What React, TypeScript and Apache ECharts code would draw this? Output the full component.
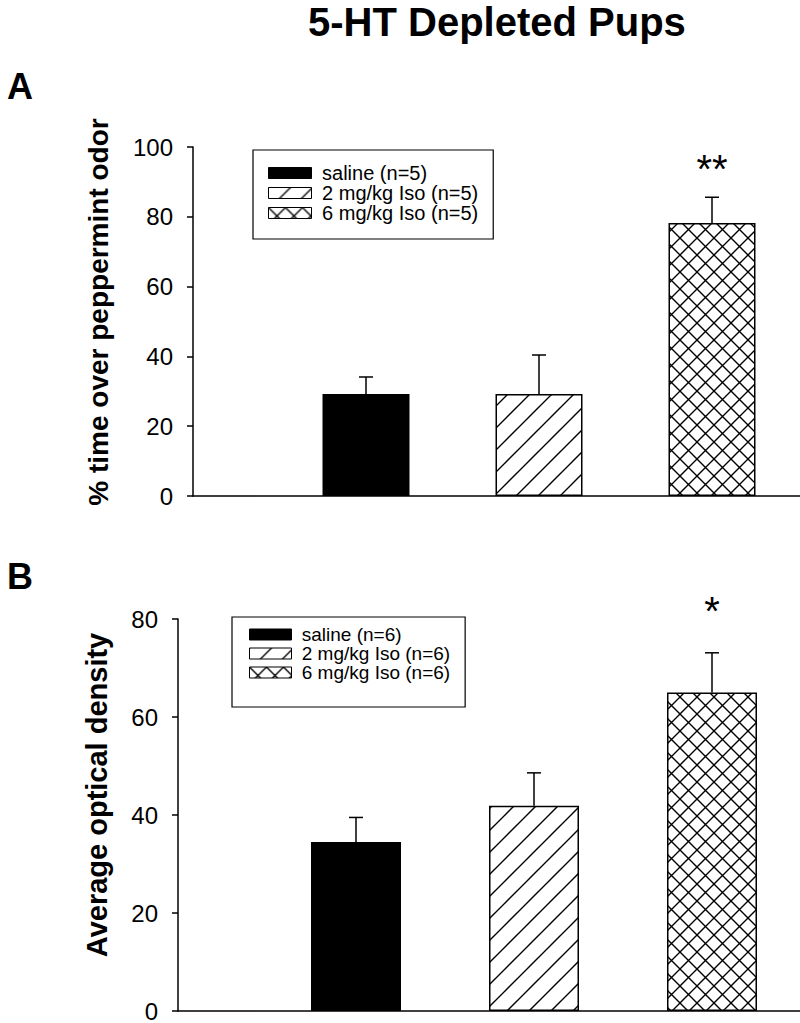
import React, { useEffect, useRef } from "react";
import * as echarts from "echarts";

// ---------- data ----------
const groupsA = ["saline (n=5)", "2 mg/kg Iso (n=5)", "6 mg/kg Iso (n=5)"];
const meansA = [29.2, 29.2, 78.2];
const errTopA = [34.1, 40.4, 85.6];
const starsA = ["", "", "**"];

const groupsB = ["saline (n=6)", "2 mg/kg Iso (n=6)", "6 mg/kg Iso (n=6)"];
const meansB = [34.5, 41.9, 65.0];
const errTopB = [39.5, 48.6, 73.1];
const starsB = ["", "", "*"];

const positions = [1, 2, 3];

const titleText = "5-HT Depleted Pups";
const yNameA = "% time over peppermint odor";
const yNameB = "Average optical density";

const FONT = "'Liberation Sans', Arial, Helvetica, sans-serif";

function makeHatch(size: number, cross: boolean) {
  const c = document.createElement("canvas");
  c.width = size;
  c.height = size;
  const ctx = c.getContext("2d")!;
  ctx.fillStyle = "#fff";
  ctx.fillRect(0, 0, size, size);
  ctx.strokeStyle = "#000";
  ctx.lineWidth = 1.4;
  ctx.beginPath();
  for (const o of [-size, 0, size]) {
    ctx.moveTo(o - 1, size + 1);
    ctx.lineTo(o + size + 1, -1);
    if (cross) {
      ctx.moveTo(o - 1, -1);
      ctx.lineTo(o + size + 1, size + 1);
    }
  }
  ctx.stroke();
  return { image: c, repeat: "repeat", imageWidth: size, imageHeight: size } as any;
}

export default function App() {
  const ref = useRef<HTMLDivElement>(null);
  useEffect(() => {
    document.body.style.margin = "0";
    const chart = echarts.init(ref.current!, null, { renderer: "svg" });
    const fills = ["#000", makeHatch(22, false), makeHatch(17, true)];

    const barSeries = (names: string[], means: number[], axis: number) =>
      names.map((n, i) => ({
        type: "bar",
        name: n,
        xAxisIndex: axis,
        yAxisIndex: axis,
        barWidth: axis === 0 ? 87 : 90,
        barGap: "-100%",
        data: [[positions[i], means[i]]],
        itemStyle: { color: fills[i], borderColor: "#000", borderWidth: 1.5 },
      }));

    const errSeries = (means: number[], tops: number[], stars: string[], axis: number, starGap: number) => ({
      type: "custom",
      xAxisIndex: axis,
      yAxisIndex: axis,
      data: positions.map((p, i) => [p, means[i], tops[i], i]),
      renderItem: (params: any, api: any) => {
        const x = api.value(0);
        const p0 = api.coord([x, api.value(1)]);
        const p1 = api.coord([x, api.value(2)]);
        const star = stars[api.value(3)];
        const st = { stroke: "#000", lineWidth: 1.5 };
        const children: any[] = [
          { type: "line", shape: { x1: p0[0], y1: p0[1], x2: p1[0], y2: p1[1] }, style: st },
          { type: "line", shape: { x1: p1[0] - 7, y1: p1[1], x2: p1[0] + 7, y2: p1[1] }, style: st },
        ];
        if (star) {
          children.push({
            type: "text",
            style: {
              text: star,
              x: p1[0],
              y: p1[1] - starGap,
              align: "center",
              verticalAlign: "bottom",
              fontSize: 40,
              fontFamily: FONT,
              fill: "#000",
            },
          });
        }
        return { type: "group", children };
      },
      z: 5,
    });

    const yAxis = (max: number, gi: number) => ({
      type: "value",
      gridIndex: gi,
      min: 0,
      max,
      interval: 20,
      axisLine: { show: true, lineStyle: { color: "#000", width: 1.5 } },
      axisTick: { show: true, inside: false, length: 6, lineStyle: { color: "#000", width: 1.5 } },
      axisLabel: { fontSize: 24, fontFamily: FONT, color: "#000", margin: 20 },
      splitLine: { show: false },
    });

    const xAxis = (max: number, gi: number) => ({
      type: "value",
      gridIndex: gi,
      min: 0,
      max,
      axisLine: { show: true, onZero: false, lineStyle: { color: "#000", width: 1.5 } },
      axisTick: { show: false },
      axisLabel: { show: false },
      splitLine: { show: false },
    });

    const legend = (names: string[], left: number, top: number, padding: number[], iw: number, fs: number, lh: number, gap: number) => ({
      data: names,
      orient: "vertical",
      left,
      top,
      padding,
      itemWidth: iw,
      itemHeight: 11,
      itemGap: gap,
      icon: "rect",
      formatter: (n: string) => " " + n,
      borderColor: "#000",
      borderWidth: 1.2,
      backgroundColor: "#fff",
      selectedMode: false,
      itemStyle: { borderColor: "#000", borderWidth: 1 },
      textStyle: { fontSize: fs, lineHeight: lh, fontFamily: FONT, color: "#000" },
    });

    const label = (text: string, x: number, y: number, size: number, rot: number, align = "left", va = "top") => ({
      type: "text",
      x,
      y,
      rotation: rot,
      style: { text, fontSize: size, fontWeight: "bold", fontFamily: FONT, fill: "#000", align, verticalAlign: va },
    });

    chart.setOption({
      animation: false,
      backgroundColor: "#fff",
      graphic: [
        label(titleText, 308, 2, 40, 0),
        label("A", 7, 68, 36, 0),
        label("B", 7, 558, 36, 0),
        label(yNameA, 98, 312, 28, Math.PI / 2, "center", "middle"),
        label(yNameB, 97, 795, 29, Math.PI / 2, "center", "middle"),
      ],
      legend: [
        legend(groupsA, 253, 150, [13, 15, 16, 15], 43, 20, 20, 0),
        legend(groupsB, 232, 617, [8, 15, 25, 17], 42, 19, 18.5, 0),
      ],
      grid: [
        { left: 193, right: 0, top: 147, height: 349 },
        { left: 178, right: 0, top: 619, height: 394 },
      ],
      xAxis: [xAxis((800 - 193) / 173, 0), xAxis((800 - 178) / 178, 1)],
      yAxis: [yAxis(100, 0), yAxis(80, 1)],
      series: [
        ...barSeries(groupsA, meansA, 0),
        ...barSeries(groupsB, meansB, 1),
        errSeries(meansA, errTopA, starsA, 0, 8),
        errSeries(meansB, errTopB, starsB, 1, 22),
      ],
    } as any);
    return () => chart.dispose();
  }, []);
  return <div ref={ref} style={{ width: 800, height: 1023 }} />;
}
